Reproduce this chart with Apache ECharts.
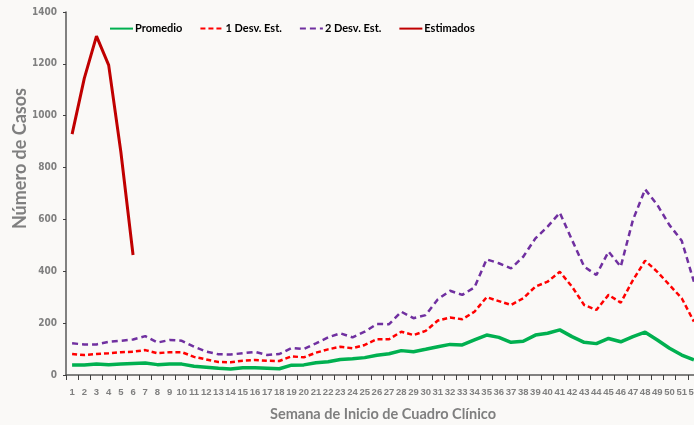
<!DOCTYPE html>
<html>
<head>
	<meta charset="UTF-8" />
	<title>Casos por semana</title>
	<script src="https://cdn.jsdelivr.net/npm/echarts@6/dist/echarts.min.js"></script>
	<style>
		html, body { margin: 0; padding: 0; background: #faf9f7; }
		#chart { width: 694px; height: 425px; }
	</style>
</head>
<body>
	<div id="chart"></div>
	<script type="text/javascript">
		// semanas 1..52
		const semanas = [];
		for (let i = 1; i <= 52; i++) semanas.push(String(i));

		const promedio = [39, 39, 42, 40, 42, 44, 46, 40, 42, 42, 34, 30, 26, 23, 28, 28, 26, 24, 38, 39,
			47, 51, 60, 63, 67, 76, 82, 94, 90, 99, 109, 118, 116, 135, 154, 145, 126, 130, 154, 161,
			174, 148, 126, 121, 141, 128, 148, 165, 135, 103, 77, 58];
		const desv1 = [81, 77, 81, 84, 88, 90, 96, 84, 88, 88, 70, 60, 50, 49, 55, 58, 55, 54, 72, 68,
			86, 99, 109, 103, 116, 138, 138, 167, 154, 170, 210, 222, 215, 244, 300, 285, 270, 296, 341, 360,
			398, 341, 270, 251, 309, 279, 366, 441, 398, 347, 296, 206];
		const desv2 = [122, 118, 118, 128, 132, 137, 150, 125, 135, 132, 109, 90, 80, 79, 84, 89, 77, 81, 104, 100,
			122, 145, 161, 145, 167, 197, 196, 244, 219, 231, 292, 325, 309, 338, 446, 431, 411, 456, 527, 572,
			626, 521, 418, 386, 476, 418, 598, 716, 656, 578, 518, 360];
		const estimados = [929, 1144, 1307, 1195, 860, 463];

		const gris = '#7f7f7f';
		const narrow = '"DejaVu Sans Condensed", "DejaVu Sans", sans-serif';
		const chart = echarts.init(document.getElementById('chart'));

		chart.setOption({
			backgroundColor: '#faf9f7',
			animation: false,
			legend: {
				left: 104,
				top: 18,
				itemWidth: 23,
				itemHeight: 14,
				itemGap: 17,
				itemStyle: { opacity: 0 },
				textStyle: { color: '#000', fontWeight: 'bold', fontSize: 11, fontFamily: 'Lato, sans-serif', padding: [0, 0, 0, -3] },
				data: ['Promedio', '1 Desv. Est.', '2 Desv. Est.', 'Estimados']
			},
			grid: { left: 66, right: -6, top: 12, bottom: 50, outerBoundsMode: 'none', containLabel: false },
			xAxis: {
				type: 'category',
				data: semanas,
				boundaryGap: true,
				name: 'Semana de Inicio de Cuadro Clínico',
				nameLocation: 'middle',
				nameGap: 32,
				nameTextStyle: { color: gris, fontWeight: 'bold', fontSize: 14.5, fontFamily: 'Lato, sans-serif' },
				axisLine: { lineStyle: { color: '#595959', width: 1.5 } },
				axisTick: { show: true, length: 5, interval: 0, lineStyle: { color: '#404040' } },
				axisLabel: { color: gris, fontWeight: 'bold', fontSize: 9.5, fontFamily: '"Liberation Sans", sans-serif', interval: 0, margin: 12, hideOverlap: false },
				splitLine: { show: false }
			},
			yAxis: {
				type: 'value',
				min: 0,
				max: 1400,
				interval: 200,
				axisLine: { show: true, lineStyle: { color: '#595959', width: 1.5 } },
				axisTick: { show: true, length: 3, lineStyle: { color: '#404040' } },
				axisLabel: { color: gris, fontWeight: 'bold', fontSize: 10, fontFamily: narrow, margin: 9, formatter: v => String(v) },
				splitLine: { show: false }
			},
			graphic: [{
				type: 'text',
				left: 11,
				top: 88,
				rotation: Math.PI / 2,
				style: {
					text: 'Número de Casos',
					fill: gris,
					font: 'bold 18px Lato, sans-serif'
				}
			}],
			series: [
				{
					name: 'Promedio', type: 'line', data: promedio, symbol: 'none',
					lineStyle: { color: '#00b050', width: 3.5 }, itemStyle: { color: '#00b050' }, z: 4
				},
				{
					name: '1 Desv. Est.', type: 'line', data: desv1, symbol: 'none',
					lineStyle: { color: '#ff0000', width: 2.5, type: [5, 3] }, itemStyle: { color: '#ff0000' }, z: 3
				},
				{
					name: '2 Desv. Est.', type: 'line', data: desv2, symbol: 'none',
					lineStyle: { color: '#7030a0', width: 2.5, type: [6, 4] }, itemStyle: { color: '#7030a0' }, z: 2
				},
				{
					name: 'Estimados', type: 'line', data: estimados, symbol: 'none',
					lineStyle: { color: '#c00000', width: 3 }, itemStyle: { color: '#c00000' }, z: 5
				}
			]
		});
	</script>
</body>
</html>
